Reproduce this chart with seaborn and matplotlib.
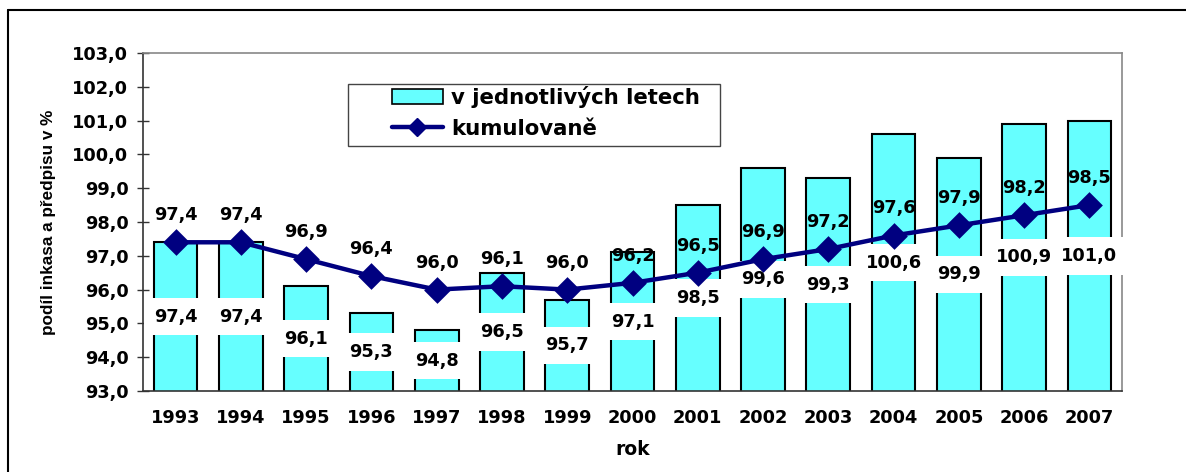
import numpy as np
import pandas as pd
import matplotlib
matplotlib.use('Agg')
import matplotlib.pyplot as plt
import seaborn as sns
from matplotlib.patches import Patch, Rectangle
from matplotlib.lines import Line2D

years = ['1993', '1994', '1995', '1996', '1997', '1998', '1999', '2000',
         '2001', '2002', '2003', '2004', '2005', '2006', '2007']
yearly = [97.4, 97.4, 96.1, 95.3, 94.8, 96.5, 95.7, 97.1,
          98.5, 99.6, 99.3, 100.6, 99.9, 100.9, 101.0]
cumulative = [97.4, 97.4, 96.9, 96.4, 96.0, 96.1, 96.0, 96.2,
              96.5, 96.9, 97.2, 97.6, 97.9, 98.2, 98.5]

bar_label = 'v jednotlivých letech'
line_label = 'kumulovaně'
y_min, y_max = 93.0, 103.0

sns.set_theme(style='white')
# wide bold face, close to the stretched Arial of the original
plt.rcParams['font.family'] = ['DejaVu Sans']
plt.rcParams['font.weight'] = 'bold'
plt.rcParams['text.color'] = 'black'
plt.rcParams['axes.labelcolor'] = 'black'

cyan = '#66FFFF'
navy = '#000080'
num_size = 12.8

fig = plt.figure(figsize=(11.86, 4.72), dpi=100)
ax = fig.add_axes([143 / 1186, 1 - 391 / 472, 979 / 1186, 338 / 472])

df = pd.DataFrame({'rok': years, 'yearly': yearly, 'cum': cumulative})

sns.barplot(data=df, x='rok', y='yearly', color=cyan, edgecolor='black',
            linewidth=1.5, width=0.67, saturation=1, ax=ax)
n_bar_lines = len(ax.lines)
sns.pointplot(data=df, x='rok', y='cum', color=navy, markers='D',
              linestyles='-', markersize=11, linewidth=3.2, ax=ax)
for ln in ax.lines[n_bar_lines:]:
    ln.set_zorder(4)

ax.set_ylim(y_min, y_max)
ax.set_xlim(-0.5, len(years) - 0.5)

# labels in the bars (centred in the visible part)
for i, v in enumerate(yearly):
    ax.text(i, (y_min + v) / 2, f'{v:.1f}'.replace('.', ','), ha='center',
            va='center', fontsize=num_size, fontweight='bold', color='black',
            bbox=dict(facecolor='white', edgecolor='none', pad=7), zorder=3)

# labels above line points
for i, v in enumerate(cumulative):
    ax.annotate(f'{v:.1f}'.replace('.', ','), (i, v), xytext=(0, 19.5),
                textcoords='offset points', ha='center', va='center',
                fontsize=num_size, fontweight='bold', color='black', zorder=6)

yt = np.arange(93, 103.5, 1.0)
ax.set_yticks(yt)
ax.set_yticklabels([f'{t:.1f}'.replace('.', ',') for t in yt],
                   fontsize=num_size, fontweight='bold')
ax.set_xticks(range(len(years)))
ax.set_xticklabels(years, fontsize=num_size, fontweight='bold')
ax.set_xticks(np.arange(-0.5, len(years), 1.0), minor=True)
ax.tick_params(axis='x', which='major', length=0, pad=13, labelcolor='black')
ax.tick_params(axis='x', which='minor', direction='inout', length=9,
               width=1, color='#333333')
ax.tick_params(axis='y', direction='inout', length=9, width=1,
               color='#333333', left=True, pad=6, labelcolor='black')

ax.set_xlabel('rok', fontsize=13.5, fontweight='bold', labelpad=9)
ax.set_ylabel('podíl inkasa a předpisu v %', fontsize=12.3,
              fontweight='bold', labelpad=12,
              family=['Liberation Sans', 'DejaVu Sans'])

for s in ['left', 'bottom']:
    ax.spines[s].set_color('#333333')
    ax.spines[s].set_linewidth(1.2)
for s in ['top', 'right']:
    ax.spines[s].set_color('#888888')
    ax.spines[s].set_linewidth(1.2)

# legend frame drawn separately (original has a wide left margin)
ax.add_patch(Rectangle((0.2094, 0.725), 0.3795, 0.183, transform=ax.transAxes,
                       facecolor='white', edgecolor='#444444', lw=1,
                       zorder=7))
handles = [Patch(facecolor=cyan, edgecolor='black', linewidth=1.2,
                 label=bar_label),
           Line2D([0], [0], color=navy, lw=3.2, marker='D', markersize=9,
                  label=line_label)]
leg = ax.legend(handles=handles, loc='upper left',
                bbox_to_anchor=(0.254, 0.902), borderaxespad=0,
                frameon=False, prop={'size': 15.3, 'weight': 'bold'},
                handlelength=2.4, handletextpad=0.4, labelspacing=0.5,
                borderpad=0)
leg.set_zorder(8)

# outer chart border (extends past the picture on right and bottom)
y_top = 1 - 10 / 472
x_left = 8 / 1186
fig.add_artist(Line2D([x_left, 1.0], [y_top, y_top], color='black', lw=1.5))
fig.add_artist(Line2D([x_left, x_left], [0, y_top], color='black', lw=1.5))

fig.savefig('out.png', dpi=100)
